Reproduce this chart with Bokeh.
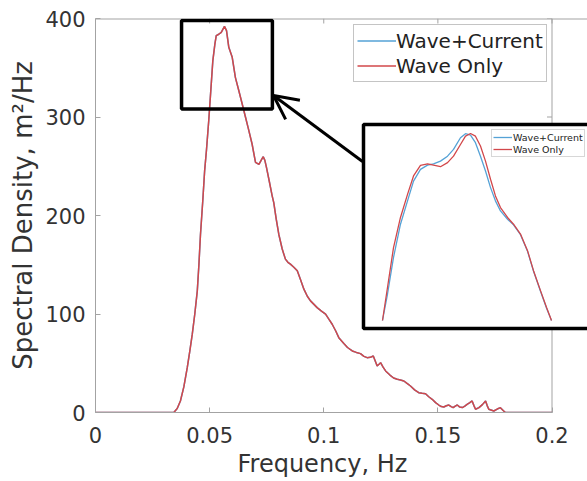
from bokeh.plotting import figure
from bokeh.models import (Range1d, FixedTicker, Legend, LegendItem, Title,
                          Span, Arrow, OpenHead, BoxAnnotation, ColumnDataSource)
from bokeh.embed import file_html
from bokeh.resources import INLINE

# ---------------- data ----------------
x_ticks = [0, 0.05, 0.1, 0.15, 0.2]
x_tick_labels = ["0", "0.05", "0.1", "0.15", "0.2"]
y_ticks = [0, 100, 200, 300, 400]
y_tick_labels = ["0", "100", "200", "300", "400"]

x_title = "Frequency, Hz"
y_title = "Spectral Density, m\u00b2/Hz"
series_names = ["Wave+Current", "Wave Only"]

freq = [0.0, 0.01, 0.02, 0.03, 0.0343, 0.0358, 0.0372, 0.0387, 0.0402, 0.0413,
        0.0424, 0.0435, 0.0446, 0.0453, 0.0460, 0.0470, 0.0478, 0.0486, 0.0496,
        0.0504, 0.0514, 0.0523, 0.0529, 0.0540, 0.0551, 0.0558, 0.0565, 0.0574,
        0.0584, 0.0599, 0.0613, 0.0628, 0.0643, 0.0657, 0.0670, 0.0686, 0.0701,
        0.0716, 0.0728, 0.0735, 0.0742, 0.0749, 0.0762, 0.0774, 0.0781, 0.0792,
        0.0803, 0.0818, 0.0832, 0.0843, 0.0854, 0.0869, 0.0884, 0.0898, 0.0913,
        0.0928, 0.0942, 0.0956, 0.0971, 0.0990, 0.1008, 0.1023, 0.1037, 0.1052,
        0.1066, 0.1088, 0.1104, 0.1125, 0.1143, 0.1161, 0.1176, 0.1190, 0.1204,
        0.1217, 0.1226, 0.1234, 0.1242, 0.1249, 0.1260, 0.1271, 0.1290, 0.1306,
        0.1322, 0.1336, 0.1351, 0.1365, 0.1380, 0.1398, 0.1416, 0.1431, 0.1446,
        0.1460, 0.1475, 0.1490, 0.1504, 0.1515, 0.1526, 0.1537, 0.1548, 0.1558,
        0.1567, 0.1576, 0.1585, 0.1596, 0.1607, 0.1618, 0.1628, 0.1640, 0.1650,
        0.1658, 0.1665, 0.1680, 0.1695, 0.1709, 0.1716, 0.1723, 0.1745, 0.1760,
        0.1774, 0.1786, 0.1796, 0.19, 0.2]

spec_wave_only = [0, 0, 0, 0, 0, 4, 11.7, 26, 45.5, 62,
                  79.5, 100, 123.5, 150, 181, 215, 245, 266, 296,
                  323, 357, 374, 382.6, 384, 386, 389, 392, 387.7,
                  370.7, 360.6, 340, 326.7, 313, 300, 288, 272.6, 254,
                  252, 257, 259.7, 256, 248.8, 234, 220, 213, 196,
                  181, 166, 155.7, 152.5, 150.6, 147.5, 143.8, 135, 125.2,
                  118, 113.3, 110, 106.5, 103, 99.8, 94.5, 89.6, 83,
                  76, 70, 66, 62.5, 61, 59.8, 57, 55.7, 56,
                  57.4, 52, 47.3, 49, 50.6, 46, 42.2, 38, 35,
                  33.7, 33, 32, 29.5, 26.9, 23, 20.1, 19.5, 19.1,
                  16, 13.4, 10, 7.6, 6, 5.6, 6.8, 7.6, 6,
                  4.9, 6.5, 7.6, 5.5, 5, 6.5, 8.3, 10, 11.7,
                  7, 3.3, 5, 8, 11.7, 7, 3.3, 1.5, 3.5,
                  4.9, 2, 0, 0, 0]
# in the full view the two spectra are indistinguishable
spec_wave_current = list(spec_wave_only)

# zoomed-in view of the peak (inset)
inset_freq = [0.04950, 0.04997, 0.05053, 0.05118, 0.05184, 0.05240, 0.05305,
              0.05371, 0.05427, 0.05492, 0.05558, 0.05614, 0.05679, 0.05726,
              0.05773, 0.05819, 0.05866, 0.05913, 0.05960, 0.06006, 0.06053,
              0.06119, 0.06175, 0.06240, 0.06306, 0.06362, 0.06427, 0.06483,
              0.06530]
inset_wave_only = [309, 323.8, 341.5, 354.9, 365.2, 373.4, 378.1,
                   378.8, 378.2, 377.5, 379.3, 382.2, 387.4, 391.1,
                   392.3, 391.1, 386.7, 380.0, 371.9, 364.5, 359.3,
                   354.9, 351.9, 347.5, 340.1, 331.2, 322.3, 314.9,
                   309]
inset_wave_current = [309, 320.8, 337.1, 351.9, 362.3, 371.1, 376.3,
                      378.2, 378.8, 380.0, 382.2, 385.2, 390.4, 392.2,
                      391.6, 388.2, 382.2, 375.6, 368.2, 362.3, 357.8,
                      354.1, 351.6, 347.2, 339.8, 330.9, 322.0, 314.6,
                      309]

# ---------------- layout constants (page pixels) ----------------
FIG_W, FIG_H = 587, 481
B_L, B_R, B_T, B_B = 95, 0, 18, 69
FL = B_L                  # frame left  (page x)
FR = FIG_W - B_R          # frame right (page x)
FT = B_T                  # frame top   (page y)
FB = FIG_H - B_B          # frame bottom(page y)
X_AT_MAX = 551.5          # page x where f = 0.2
X_MAX = 0.2
Y_MAX = 400
TICK = 5                  # tick length, px
XTITLE_LEFT = 237         # page x where the x title starts

ZOOM_F = (0.0377, 0.0775)           # zoom box in data units
ZOOM_S = (308, 398)

INSET_BOX = (363, 650, 124, 328)    # left, right, top, bottom (page px)
INSET_XLIM = (0.0495, 0.0653)
INSET_YLIM = (309, 392.3)
INSET_XPIX = (382, 551)
INSET_YPIX = (320, 133)

ARROW_TAIL = (362, 161)
ARROW_TIP = (273, 95)

BLUE = "#55a2d6"
RED = "#d2474a"
AXIS_C = "#a3a3a3"
TEXT_C = "#333333"
FONT = "DejaVu Sans"

x_end = X_MAX * (FR - FL) / (X_AT_MAX - FL)

p = figure(width=FIG_W, height=FIG_H, output_backend="svg", toolbar_location=None,
           x_range=Range1d(0, x_end), y_range=Range1d(0, Y_MAX),
           min_border_left=B_L, min_border_right=B_R,
           min_border_top=B_T, min_border_bottom=B_B)
p.outline_line_color = None
p.grid.visible = False
p.background_fill_color = "white"
p.border_fill_color = "white"

# page-pixel coordinate system for decorations
p.extra_x_ranges["px"] = Range1d(FL, FR)
p.extra_y_ranges["py"] = Range1d(FB, FT)

# inset coordinate system
sx = (INSET_XLIM[1] - INSET_XLIM[0]) / (INSET_XPIX[1] - INSET_XPIX[0])
sy = (INSET_YLIM[1] - INSET_YLIM[0]) / (INSET_YPIX[0] - INSET_YPIX[1])
p.extra_x_ranges["ix"] = Range1d(INSET_XLIM[0] - (INSET_XPIX[0] - FL) * sx,
                                 INSET_XLIM[0] + (FR - INSET_XPIX[0]) * sx)
p.extra_y_ranges["iy"] = Range1d(INSET_YLIM[0] - (FB - INSET_YPIX[0]) * sy,
                                 INSET_YLIM[0] + (INSET_YPIX[0] - FT) * sy)

# ---------------- axes ----------------
def style_axis(ax):
    ax.axis_line_color = AXIS_C
    ax.major_tick_line_color = AXIS_C
    ax.minor_tick_line_color = None
    ax.major_tick_in = TICK
    ax.major_tick_out = 0
    ax.major_label_text_font = FONT
    ax.major_label_text_font_size = "21px"
    ax.major_label_text_color = TEXT_C
    ax.axis_label_text_font = FONT
    ax.axis_label_text_font_style = "normal"
    ax.axis_label_text_color = TEXT_C

xa = p.xaxis[0]
style_axis(xa)
xa.ticker = FixedTicker(ticks=x_ticks)
xa.major_label_overrides = dict(zip(x_ticks, x_tick_labels))
xa.bounds = (0, X_MAX)
xa.major_label_standoff = 14

ya = p.yaxis[0]
style_axis(ya)
ya.ticker = FixedTicker(ticks=y_ticks)
ya.major_label_overrides = dict(zip(y_ticks, y_tick_labels))
ya.axis_label = y_title
ya.axis_label_text_font_size = "26px"
ya.major_label_standoff = 10
ya.axis_label_standoff = 4

# x title, centred under the 0 .. 0.2 axis (not under the wider frame)
p.add_layout(Title(text=x_title, align="left", offset=XTITLE_LEFT - FL,
                   standoff=4, text_font=FONT, text_font_size="24px",
                   text_font_style="normal", text_color=TEXT_C), "below")

# box: top edge and right edge with inward ticks
px_per_y = Y_MAX / (FB - FT)
px_per_x = x_end / (FR - FL)
p.add_layout(Span(location=Y_MAX, dimension="width", line_color=AXIS_C,
                  line_width=2, level="underlay"))
p.add_layout(Span(location=X_MAX, dimension="height", line_color=AXIS_C,
                  line_width=1, level="underlay"))
p.segment(x0=x_ticks, x1=x_ticks, y0=[Y_MAX] * len(x_ticks),
          y1=[Y_MAX - TICK * px_per_y] * len(x_ticks),
          line_color=AXIS_C, line_width=1, level="underlay")
p.segment(x0=[X_MAX] * len(y_ticks), x1=[X_MAX - TICK * px_per_x] * len(y_ticks),
          y0=y_ticks, y1=y_ticks, line_color=AXIS_C, line_width=1, level="underlay")

# ---------------- main curves ----------------
main_src = ColumnDataSource(dict(f=freq, wc=spec_wave_current, wo=spec_wave_only))
r_wc = p.line("f", "wc", source=main_src, line_color=BLUE, line_width=1.5)
r_wo = p.line("f", "wo", source=main_src, line_color=RED, line_width=1.5)

# zoom box
p.add_layout(BoxAnnotation(left=ZOOM_F[0], right=ZOOM_F[1], bottom=ZOOM_S[0], top=ZOOM_S[1],
                           fill_alpha=0, line_color="black", line_alpha=1, line_width=3.5))

# ---------------- inset ----------------
p.quad(left=[INSET_BOX[0]], right=[INSET_BOX[1]], top=[INSET_BOX[2]], bottom=[INSET_BOX[3]],
       x_range_name="px", y_range_name="py", fill_color="white",
       line_color="black", line_width=3.5)
inset_src = ColumnDataSource(dict(f=inset_freq, wc=inset_wave_current, wo=inset_wave_only))
ri_wc = p.line("f", "wc", source=inset_src, x_range_name="ix", y_range_name="iy",
               line_color=BLUE, line_width=1.3)
ri_wo = p.line("f", "wo", source=inset_src, x_range_name="ix", y_range_name="iy",
               line_color=RED, line_width=1.3)

p.add_layout(Arrow(x_start=ARROW_TAIL[0], y_start=ARROW_TAIL[1],
                   x_end=ARROW_TIP[0], y_end=ARROW_TIP[1],
                   x_range_name="px", y_range_name="py",
                   line_color="black", line_width=3,
                   end=OpenHead(size=24, line_width=3, line_color="black")))

# ---------------- legends ----------------
main_leg = Legend(items=[LegendItem(label=series_names[0], renderers=[r_wc]),
                         LegendItem(label=series_names[1], renderers=[r_wo])],
                  location=(353 - FL, FB - 82),
                  padding=3, spacing=0, margin=0,
                  glyph_width=39, glyph_height=25, label_height=25, label_standoff=0,
                  label_text_font=FONT, label_text_font_size="20px",
                  label_text_color="#222222",
                  border_line_color="#8a8a8a", border_line_width=1,
                  background_fill_color="white", background_fill_alpha=1)
p.add_layout(main_leg, "center")

inset_leg = Legend(items=[LegendItem(label=series_names[0], renderers=[ri_wc]),
                          LegendItem(label=series_names[1], renderers=[ri_wo])],
                   location=(491 - FL, FB - 157),
                   padding=1, spacing=0, margin=0,
                   glyph_width=19, glyph_height=12, label_height=12, label_standoff=1,
                   label_text_font=FONT, label_text_font_size="9.5px",
                   label_text_color="#222222",
                   border_line_color="#b0b0b0", border_line_width=1,
                   background_fill_color="white", background_fill_alpha=1)
p.add_layout(inset_leg, "center")

open("out.html", "w").write(file_html(p, INLINE))
